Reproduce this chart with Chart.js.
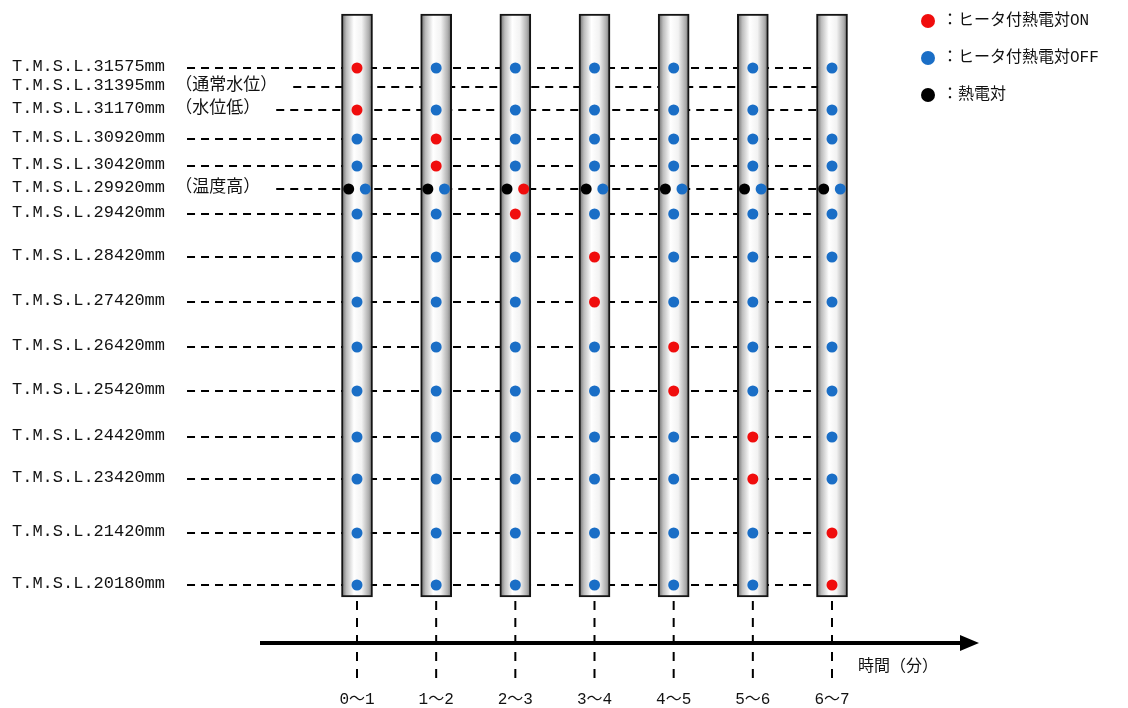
<!DOCTYPE html>
<html>
<head>
<meta charset="utf-8">
<script src="https://cdn.jsdelivr.net/npm/chart.js@4.4.0/dist/chart.umd.min.js"></script>
<style>
  html, body { margin: 0; padding: 0; background: #fff; }
  #wrap { width: 1128px; height: 708px; }
</style>
</head>
<body>
<div id="wrap"><canvas id="grafico"></canvas></div>
<script>
// Niveles (T.M.S.L.) y notas
var levelLabels = ['T.M.S.L.31575mm', 'T.M.S.L.31395mm', 'T.M.S.L.31170mm', 'T.M.S.L.30920mm',
  'T.M.S.L.30420mm', 'T.M.S.L.29920mm', 'T.M.S.L.29420mm', 'T.M.S.L.28420mm', 'T.M.S.L.27420mm',
  'T.M.S.L.26420mm', 'T.M.S.L.25420mm', 'T.M.S.L.24420mm', 'T.M.S.L.23420mm', 'T.M.S.L.21420mm',
  'T.M.S.L.20180mm'];
var levelNotes = ['', '（通常水位）', '（水位低）', '', '', '（温度高）', '', '', '', '', '', '', '', '', ''];
// posicion de cada nivel en el esquema (no es lineal en mm)
var levelPos = [68, 87, 110, 139, 166, 189, 214, 257, 302, 347, 391, 437, 479, 533, 585];

// intervalos de tiempo
var timeLabels = ['0～1', '1～2', '2～3', '3～4', '4～5', '5～6', '6～7'];
// filas con termopar calefactado (la fila 31395mm no tiene)
var heaterRows = [0, 2, 3, 4, 5, 6, 7, 8, 9, 10, 11, 12, 13, 14];
// filas en ON para cada intervalo
var onRows = [[0, 2], [3, 4], [5, 6], [7, 8], [9, 10], [11, 12], [13, 14]];
// fila del termopar simple
var thermoRow = 5;

var seriesNames = ['ヒータ付熱電対ON', 'ヒータ付熱電対OFF', '熱電対'];
var seriesColors = ['#f00d0d', '#1a6ec6', '#000000'];

var tubeTop = 14, tubeBottom = 597;
var pairOffset = 0.105;

// construir los puntos
var ptsOn = [], ptsOff = [], ptsThermo = [];
timeLabels.forEach(function (t, c) {
  heaterRows.forEach(function (r) {
    var p = { x: r === thermoRow ? c + pairOffset : c, y: levelPos[r] };
    if (onRows[c].indexOf(r) >= 0) ptsOn.push(p); else ptsOff.push(p);
  });
  ptsThermo.push({ x: c - pairOffset, y: levelPos[thermoRow] });
});

var jpFont = '"Liberation Mono", "Noto Sans CJK JP", monospace';

var decor = {
  id: 'decor',
  beforeDatasetsDraw: function (chart) {
    var ctx = chart.ctx, xs = chart.scales.x, ys = chart.scales.y;
    var lastX = xs.getPixelForValue(timeLabels.length - 1);
    ctx.save();
    ctx.font = '17px ' + jpFont;
    ctx.strokeStyle = '#000';
    ctx.lineWidth = 2;
    // lineas horizontales discontinuas
    ctx.setLineDash([8, 6]);
    levelLabels.forEach(function (l, i) {
      var w = ctx.measureText(l + (levelNotes[i] ? ' ' + levelNotes[i] : '')).width;
      var y = ys.getPixelForValue(levelPos[i]);
      ctx.beginPath();
      ctx.moveTo(12 + w + (levelNotes[i] ? 16 : 22), y);
      ctx.lineTo(lastX, y);
      ctx.stroke();
    });
    // lineas verticales bajo los tubos
    ctx.setLineDash([9, 8]);
    timeLabels.forEach(function (t, c) {
      var x = xs.getPixelForValue(c);
      ctx.beginPath();
      ctx.moveTo(x, tubeBottom + 4);
      ctx.lineTo(x, 680);
      ctx.stroke();
    });
    ctx.setLineDash([]);
    // flecha del tiempo
    ctx.lineWidth = 4;
    ctx.beginPath();
    ctx.moveTo(260, 643);
    ctx.lineTo(962, 643);
    ctx.stroke();
    ctx.beginPath();
    ctx.moveTo(979, 643);
    ctx.lineTo(960, 635);
    ctx.lineTo(960, 651);
    ctx.closePath();
    ctx.fillStyle = '#000';
    ctx.fill();
    ctx.restore();
  },
  afterDraw: function (chart) {
    var ctx = chart.ctx, xs = chart.scales.x, ys = chart.scales.y;
    ctx.save();
    ctx.fillStyle = '#111';
    ctx.textBaseline = 'middle';
    ctx.font = '17px ' + jpFont;
    levelLabels.forEach(function (l, i) {
      ctx.fillText(l + (levelNotes[i] ? ' ' + levelNotes[i] : ''), 12, ys.getPixelForValue(levelPos[i]) - 2);
    });
    ctx.textAlign = 'center';
    ctx.font = '16px ' + jpFont;
    timeLabels.forEach(function (t, c) {
      ctx.fillText(t, xs.getPixelForValue(c), 700);
    });
    ctx.font = '16px "Noto Sans CJK JP"';
    ctx.fillText('時間（分）', 898, 665);
    // leyenda
    ctx.textAlign = 'left';
    seriesNames.forEach(function (n, i) {
      var y = 21 + i * 37;
      ctx.beginPath();
      ctx.arc(928, y, 7, 0, Math.PI * 2);
      ctx.fillStyle = seriesColors[i];
      ctx.fill();
      ctx.fillStyle = '#111';
      ctx.font = '16px ' + jpFont;
      ctx.fillText('：' + n, 942, y);
    });
    ctx.restore();
  }
};

var ctx = document.getElementById('grafico').getContext('2d');

var grafico = new Chart(ctx, {
  type: 'scatter',
  data: {
    datasets: [
      { label: seriesNames[0], data: ptsOn, backgroundColor: seriesColors[0], pointRadius: 5.5, pointBorderWidth: 0, order: 0 },
      { label: seriesNames[1], data: ptsOff, backgroundColor: seriesColors[1], pointRadius: 5.5, pointBorderWidth: 0, order: 0 },
      { label: seriesNames[2], data: ptsThermo, backgroundColor: seriesColors[2], pointRadius: 5.5, pointBorderWidth: 0, order: 0 },
      {
        type: 'bar',
        label: 'tubos',
        data: timeLabels.map(function (t, c) { return { x: c, y: [tubeTop, tubeBottom] }; }),
        barThickness: 31,
        borderColor: '#141414',
        borderWidth: 2,
        borderSkipped: false,
        order: 5,
        backgroundColor: function (c) {
          var ch = c.chart;
          if (!ch.chartArea || !c.raw) return '#ddd';
          var x = ch.scales.x.getPixelForValue(c.raw.x);
          var g = ch.ctx.createLinearGradient(x - 15.5, 0, x + 15.5, 0);
          g.addColorStop(0, '#666666');
          g.addColorStop(0.16, '#bdbdbd');
          g.addColorStop(0.4, '#ffffff');
          g.addColorStop(0.65, '#f2f2f2');
          g.addColorStop(0.88, '#adadad');
          g.addColorStop(1, '#6c6c6c');
          return g;
        }
      }
    ]
  },
  options: {
    responsive: true,
    maintainAspectRatio: false,
    animation: false,
    layout: { padding: 0, autoPadding: false },
    scales: {
      x: { type: 'linear', display: false, offset: false, min: -4.5095, max: 9.7389 },
      y: { type: 'linear', display: false, offset: false, reverse: true, min: 0, max: 708 }
    },
    plugins: {
      legend: { display: false },
      tooltip: { enabled: false }
    }
  },
  plugins: [decor]
});
</script>
</body>
</html>
